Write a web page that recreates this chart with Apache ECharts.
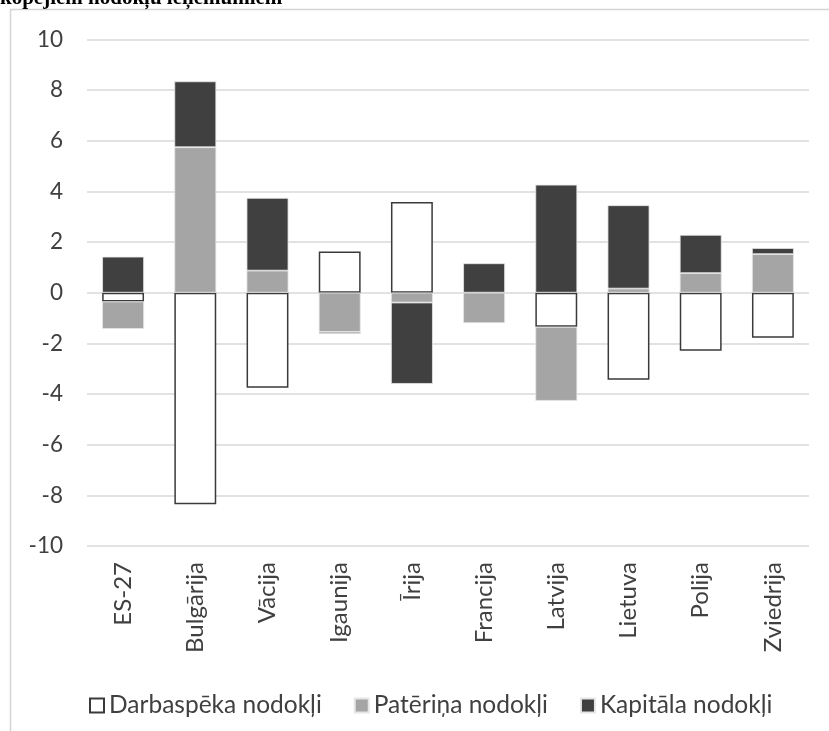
<!DOCTYPE html>
<html>
<head>
<meta charset="utf-8">
<script src="https://cdn.jsdelivr.net/npm/echarts@6/dist/echarts.min.js"></script>
<style>
  html, body { margin: 0; padding: 0; background: #fff; }
  #chart { width: 829px; height: 731px; }
</style>
</head>
<body>
<div id="chart"></div>
<script>
// Countries on the category axis
const categories = ['ES-27', 'Bulgārija', 'Vācija', 'Igaunija', 'Īrija', 'Francija', 'Latvija', 'Lietuva', 'Polija', 'Zviedrija'];

// Change in share of total tax revenue, percentage points
const labourTax      = [-0.35, -8.35, -3.75,  1.62,  3.58,  0.00, -1.35, -3.44, -2.29, -1.78];
const consumptionTax = [-1.08,  5.74,  0.87, -1.55, -0.39, -1.20, -2.92,  0.16,  0.77,  1.52];
const capitalTax     = [ 1.42,  2.60,  2.87, -0.08, -3.21,  1.16,  4.26,  3.29,  1.51,  0.24];

const seriesNames = ['Darbaspēka nodokļi', 'Patēriņa nodokļi', 'Kapitāla nodokļi'];
const titleText = 'kopējiem nodokļu ieņēmumiem';

const font = 'Lato, "Open Sans", sans-serif';
const textColor = '#404040';

const chart = echarts.init(document.getElementById('chart'), null, { renderer: 'canvas' });

function barSeries(name, values, style) {
  return {
    name: name,
    type: 'bar',
    stack: 'total',
    barWidth: '58%',
    data: values.map(v => (v === 0 ? '-' : v)),
    itemStyle: style,
    emphasis: { disabled: true }
  };
}

chart.setOption({
  animation: false,
  backgroundColor: '#fff',
  graphic: [
    {
      type: 'rect',
      shape: { x: 10.5, y: 9.5, width: 900, height: 900 },
      style: { fill: 'none', stroke: '#d4d4d4', lineWidth: 1.5 },
      silent: true,
      z: -1
    },
    {
      type: 'text',
      left: 0,
      top: -12,
      style: {
        text: titleText,
        font: 'bold 21px "Liberation Serif", "DejaVu Serif", serif',
        fill: '#000'
      },
      silent: true
    }
  ],
  grid: { left: 87, right: 20, top: 39.3, bottom: 185, containLabel: false },
  legend: {
    data: seriesNames,
    left: 84,
    top: 688,
    icon: 'rect',
    itemWidth: 14,
    itemHeight: 14,
    itemGap: 32,
    textStyle: { fontFamily: font, fontSize: 24.5, color: textColor, padding: [0, 0, 0, 0] }
  },
  xAxis: {
    type: 'category',
    data: categories,
    axisLine: { show: false },
    axisTick: { show: false },
    axisLabel: {
      rotate: 90,
      margin: 16,
      interval: 0,
      fontFamily: font,
      fontSize: 24,
      color: textColor
    }
  },
  yAxis: {
    type: 'value',
    min: -10,
    max: 10,
    interval: 2,
    axisLine: { show: false },
    axisTick: { show: false },
    axisLabel: { fontFamily: font, fontSize: 22.5, color: textColor, margin: 24 },
    splitLine: { lineStyle: { color: '#d9d9d9', width: 1.5 } }
  },
  series: [
    barSeries(seriesNames[0], labourTax, { color: '#ffffff', borderColor: '#3a3a3a', borderWidth: 1.5 }),
    barSeries(seriesNames[1], consumptionTax, { color: '#a5a5a5', borderColor: '#e6e6e6', borderWidth: 0.8 }),
    barSeries(seriesNames[2], capitalTax, { color: '#404040', borderColor: '#e6e6e6', borderWidth: 0.8 })
  ]
});
</script>
</body>
</html>
